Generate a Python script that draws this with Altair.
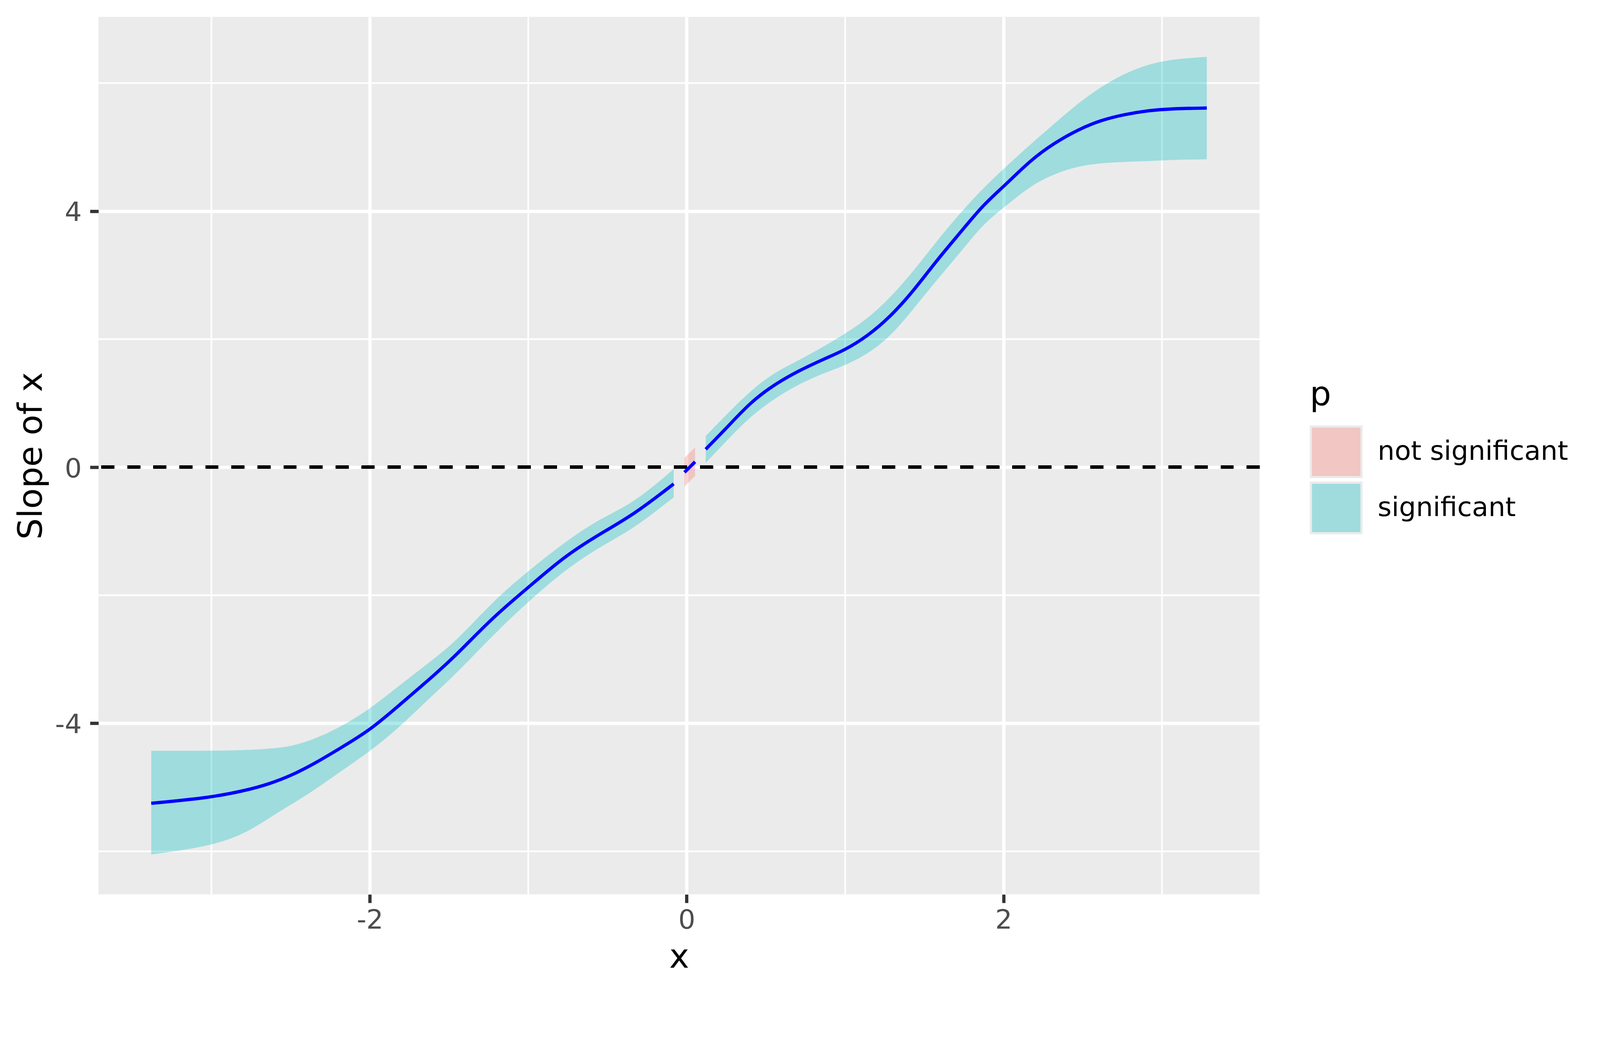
import pandas as pd
import altair as alt

# slope of x with its confidence band, split where the band meets 0
left_x = [-3.380, -3.000, -2.785, -2.637, -2.490, -2.342, -2.194, -2.000, -1.825,
          -1.604, -1.456, -1.218, -1.000, -0.776, -0.554, -0.333, -0.082]
left_lo = [-6.05, -5.92, -5.72, -5.48, -5.26, -5.03, -4.77, -4.44, -4.09,
           -3.56, -3.23, -2.61, -2.10, -1.62, -1.25, -0.96, -0.47]
left_fit = [-5.25, -5.16, -5.05, -4.95, -4.81, -4.62, -4.40, -4.11, -3.74,
            -3.27, -2.94, -2.33, -1.88, -1.40, -1.05, -0.74, -0.26]
left_hi = [-4.43, -4.43, -4.42, -4.40, -4.36, -4.24, -4.07, -3.78, -3.43,
           -3.01, -2.72, -2.08, -1.62, -1.18, -0.81, -0.56, -0.03]

mid_x = [-0.014, 0.053]
mid_lo = [-0.30, -0.136]
mid_fit = [-0.08, 0.084]
mid_hi = [0.147, 0.31]

right_x = [0.120, 0.258, 0.405, 0.553, 0.701, 0.875, 0.991, 1.138, 1.286, 1.434,
           1.581, 1.729, 1.876, 2.000, 2.172, 2.318, 2.467, 2.614, 2.762, 2.910,
           3.057, 3.283]
right_lo = [0.066, 0.43, 0.80, 1.07, 1.29, 1.48, 1.58, 1.76, 2.04, 2.48,
            2.93, 3.36, 3.81, 4.05, 4.40, 4.58, 4.70, 4.75, 4.77, 4.78,
            4.80, 4.81]
right_fit = [0.28, 0.63, 1.02, 1.29, 1.50, 1.70, 1.82, 2.04, 2.35, 2.76,
             3.24, 3.67, 4.11, 4.38, 4.80, 5.06, 5.27, 5.42, 5.51, 5.57,
             5.60, 5.61]
right_hi = [0.487, 0.84, 1.20, 1.48, 1.66, 1.90, 2.07, 2.31, 2.65, 3.07,
            3.54, 3.98, 4.37, 4.66, 5.05, 5.36, 5.68, 5.94, 6.15, 6.29,
            6.37, 6.41]

cats = ['not significant', 'significant']
fill_colors = ['#F8766D', '#00BFC4']
key_colors = ['#F1C6C3', '#A0DCDD']

major_x = [-2, 0, 2]
major_y = [-4, 0, 4]
minor_x = [-3, -1, 1, 3]
minor_y = [-6, -2, 2, 6]

rows = []
segments = [
    ('significant', left_x, left_lo, left_fit, left_hi),
    ('not significant', mid_x, mid_lo, mid_fit, mid_hi),
    ('significant', right_x, right_lo, right_fit, right_hi),
]
for seg, (p, xs, lo, fit, hi) in enumerate(segments):
    for a, b, c, d in zip(xs, lo, fit, hi):
        rows.append({'x': a, 'lo': b, 'fit': c, 'hi': d, 'p': p, 'seg': seg})
df = pd.DataFrame(rows)

# ggplot style 5% expansion
xmin, xmax = df.x.min(), df.x.max()
ymin, ymax = df.lo.min(), df.hi.max()
xpad = 0.05 * (xmax - xmin)
ypad = 0.05 * (ymax - ymin)
x_scale = alt.Scale(domain=[xmin - xpad, xmax + xpad], nice=False, zero=False)
y_scale = alt.Scale(domain=[ymin - ypad, ymax + ypad], nice=False, zero=False)

font = 'DejaVu Sans'
x_axis = alt.Axis(values=major_x, title='x', grid=True, gridColor='white', gridWidth=8.9,
                  domain=False, tickColor='#333333', tickWidth=8.9, tickSize=23,
                  labelFont=font, labelFontSize=73, labelColor='#4D4D4D', labelPadding=12,
                  labelExpr='toString(datum.value)',
                  titleFont=font, titleFontSize=92, titleFontWeight='normal',
                  titleColor='black', titleBaseline='alphabetic', titleY=199)
y_axis = alt.Axis(values=major_y, title='Slope of x', grid=True, gridColor='white', gridWidth=8.9,
                  domain=False, tickColor='#333333', tickWidth=8.9, tickSize=23,
                  labelFont=font, labelFontSize=73, labelColor='#4D4D4D', labelPadding=23,
                  labelBaseline='alphabetic', labelOffset=27,
                  labelExpr='toString(datum.value)',
                  titleFont=font, titleFontSize=92, titleFontWeight='normal',
                  titleColor='black', titleBaseline='alphabetic', titleAngle=270, titleX=-155)


def xenc(field):
    return alt.X(field, type='quantitative', scale=x_scale, axis=x_axis)


def yenc(field):
    return alt.Y(field, type='quantitative', scale=y_scale, axis=y_axis)


grid_v = alt.Chart(pd.DataFrame({'x': minor_x})).mark_rule(
    color='white', strokeWidth=4.4).encode(x=xenc('x'))
grid_h = alt.Chart(pd.DataFrame({'fit': minor_y})).mark_rule(
    color='white', strokeWidth=4.4).encode(y=yenc('fit'))

# ribbon: translucent fill over the grey panel (scale domain left to the data)
band = alt.Chart(df).mark_area(opacity=0.32, interpolate='basis').encode(
    x=xenc('x'),
    y=yenc('lo'),
    y2='hi',
    fill=alt.Fill('p:N', scale=alt.Scale(range=fill_colors), legend=None),
    detail='seg:N',
)

zero = alt.Chart(df).mark_rule(color='black', strokeWidth=8.5, strokeDash=[35, 36]).encode(
    y=alt.datum(0)
)

line = alt.Chart(df).mark_line(color='blue', strokeWidth=8.9, interpolate='basis').encode(
    x=xenc('x'),
    y=yenc('fit'),
    detail='seg:N',
)

legend = alt.Legend(title='p', orient='none', legendX=3304, legendY=986, direction='vertical',
                    symbolType='square', symbolSize=19044, symbolStrokeColor='#EBEBEB',
                    symbolStrokeWidth=6, symbolOpacity=1,
                    labelFont=font, labelFontSize=73, labelColor='black', labelOffset=41,
                    labelLimit=1000,
                    titleFont=font, titleFontSize=92, titleFontWeight='normal',
                    titleColor='black', titlePadding=36, rowPadding=-18, padding=0)

# invisible marks that only carry the legend, keyed with the blended colours
keys = alt.Chart(df).mark_square(opacity=0).encode(
    x=xenc('x'),
    y=yenc('fit'),
    color=alt.Color('p:N', scale=alt.Scale(domain=cats, range=key_colors), legend=legend),
)

chart = alt.layer(grid_v, grid_h, band, zero, line, keys).properties(
    width=3167,
    height=2393,
    autosize=alt.AutoSizeParams(type='none'),
    padding={'left': 260, 'top': -46, 'right': 920, 'bottom': 210},
    background='white',
).configure_view(fill='#EBEBEB', strokeWidth=0)

chart.save("out.html", embed_options={"renderer": "svg", "actions": False})
